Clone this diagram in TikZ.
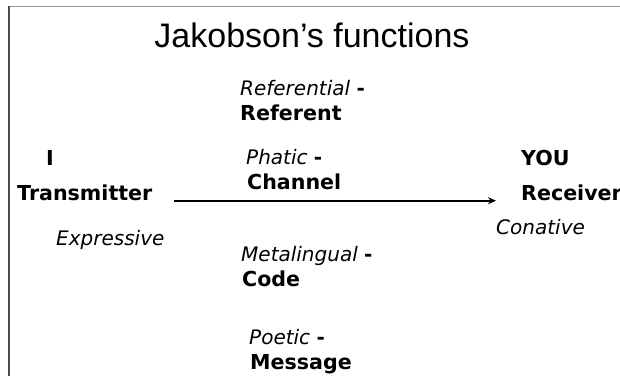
\documentclass[tikz,border=0pt]{standalone}
\usepackage{fontspec}
\setmainfont{DejaVu Sans}
\newfontfamily\titlefont{Liberation Sans}
\usetikzlibrary{arrows.meta}

\begin{document}
\begin{tikzpicture}[x=1pt,y=-1pt,>={Stealth[length=8pt,width=7pt]},
  func/.style={anchor=base west,inner sep=0pt,font=\fontsize{20}{24}\selectfont\itshape},
  part/.style={anchor=base west,inner sep=0pt,font=\fontsize{20.6}{24}\selectfont\bfseries}]
  \useasboundingbox (0,0) rectangle (620,376);
  % frame
  \draw[black!40,line width=1pt] (9,6) -- (620,6);
  \draw[black!70,line width=2pt] (9,6) -- (9,376);

  \node[anchor=base,inner sep=0pt,font=\titlefont\fontsize{34}{40}\selectfont]
    (title) at (312,47) {Jakobson’s functions};

  % sender and receiver
  \node[part] (sendI) at (46,165) {I};
  \node[part] (transmitter) at (17,200.7) {Transmitter};
  \node[func] (expressive) at (56,245) {Expressive};
  \node[part] (you) at (521,165) {YOU};
  \node[part] (receiver) at (521,200.7) {Receiver};
  \node[func] (conative) at (496,234) {Conative};

  % functions in the middle
  \node[func] (referential) at (240,95) {Referential \textup{\bfseries -}};
  \node[part] (referent) at (240,120.5) {Referent};
  \node[func] (phatic) at (246,164.5) {Phatic \textup{\bfseries -}};
  \node[part] (channel) at (247,189.5) {Channel};
  \node[func] (metalingual) at (241,261.5) {Metalingual \textup{\bfseries -}};
  \node[part] (code) at (242,286) {Code};
  \node[func] (poetic) at (249,344) {Poetic \textup{\bfseries -}};
  \node[part] (message) at (250,369) {Message};

  \draw[->,line width=2pt,shorten <=21pt,shorten >=25pt]
    (transmitter.base east) -- (receiver.base west);
\end{tikzpicture}
\end{document}
